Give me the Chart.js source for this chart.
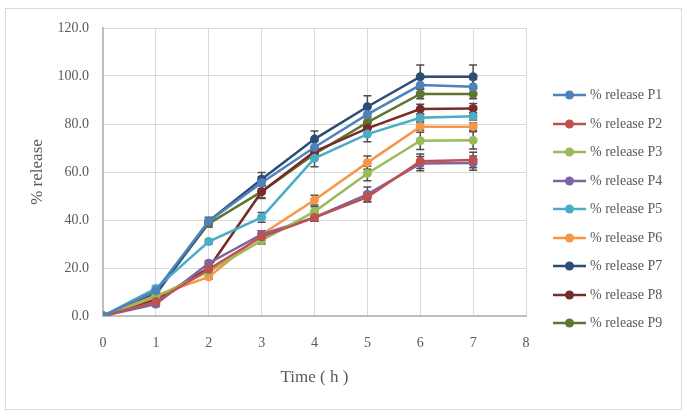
<!DOCTYPE html>
<html>
<head>
<meta charset="utf-8">
<script src="https://cdn.jsdelivr.net/npm/chart.js@4/dist/chart.umd.min.js"></script>
<style>
  html, body { margin: 0; padding: 0; background: #fff; }
  #wrap { position: relative; width: 687px; height: 418px; }
  #frame { position: absolute; left: 5px; top: 8px; width: 675px; height: 400px; border: 1.5px solid #d9d9d9; }
  #chart { position: absolute; left: 0; top: 0; }
  #legend { position: absolute; left: 553px; top: 81px; font-family: "Liberation Serif", serif; font-size: 14px; color: #595959; }
  #legend .item { height: 28.5px; display: flex; align-items: center; white-space: nowrap; }
  #legend svg { margin-right: 4px; }
</style>
</head>
<body>
<div id="wrap">
  <div id="frame"></div>
  <canvas id="chart" width="687" height="418"></canvas>
  <div id="legend"></div>
</div>
<script>
// time points (h)
const hours = [0, 1, 2, 3, 4, 5, 6, 7];
const xTicks = [0, 1, 2, 3, 4, 5, 6, 7, 8];

// % release for each formulation
const p1 = [0, 10.5, 39.5, 55.5, 70.3, 84.0, 96.2, 95.5];
const p2 = [0, 6.0, 19.5, 33.0, 41.0, 49.5, 64.5, 65.0];
const p3 = [0, 8.0, 18.5, 31.5, 43.5, 59.4, 73.0, 73.2];
const p4 = [0, 5.0, 22.0, 34.0, 41.1, 50.7, 63.5, 63.7];
const p5 = [0, 11.5, 31.0, 41.1, 65.7, 75.8, 82.6, 83.2];
const p6 = [0, 8.5, 16.3, 34.0, 48.3, 63.9, 78.9, 78.9];
const p7 = [0, 9.0, 39.5, 57.0, 73.7, 87.2, 99.7, 99.7];
const p8 = [0, 6.9, 20.0, 51.8, 68.5, 78.2, 86.2, 86.5];
const p9 = [0, 9.7, 38.5, 51.8, 67.5, 80.7, 92.5, 92.5];

// standard deviations (error bars)
const sd1 = [0, 1, 1.5, 2.5, 2.5, 3, 3, 3];
const sd2 = [0, 1, 1, 1.5, 1.5, 2, 3, 3.2];
const sd3 = [0, 1, 1, 1.5, 2, 3, 3.6, 3.6];
const sd4 = [0, 1, 1, 1.5, 1.5, 3, 3, 3];
const sd5 = [0, 1, 1, 2, 3.5, 3.2, 1.5, 1.5];
const sd6 = [0, 1, 1, 1.5, 2, 2.8, 1.5, 1.5];
const sd7 = [0, 1, 1.5, 2.8, 3.4, 4.6, 4.9, 4.9];
const sd8 = [0, 1, 1, 2.8, 2, 2, 2, 2];
const sd9 = [0, 1, 1.5, 2.5, 2, 2, 2, 2];

const seriesNames = ["% release P1", "% release P2", "% release P3", "% release P4", "% release P5",
  "% release P6", "% release P7", "% release P8", "% release P9"];
const seriesValues = [p1, p2, p3, p4, p5, p6, p7, p8, p9];
const seriesErrors = [sd1, sd2, sd3, sd4, sd5, sd6, sd7, sd8, sd9];
const colors = ["#4f81bd", "#c0504d", "#9bbb59", "#8064a2", "#4bacc6", "#f79646", "#2c4d75", "#772c2a", "#5f7530"];

const serif = "'Liberation Serif', 'Times New Roman', serif";

const datasets = seriesNames.map((name, i) => ({
  label: name,
  data: seriesValues[i].map((v, j) => ({ x: hours[j], y: v })),
  errors: seriesErrors[i],
  borderColor: colors[i],
  backgroundColor: colors[i],
  borderWidth: 2.5,
  pointRadius: 4.5,
  pointHoverRadius: 4.5,
  pointBorderWidth: 0,
  tension: 0,
}));

// error bars drawn with the chart's own scales
const errorBars = {
  id: "errorBars",
  beforeDatasetsDraw(chart) {
    const { ctx, scales: { x, y } } = chart;
    ctx.save();
    ctx.strokeStyle = "#4d4d4d";
    ctx.lineWidth = 1.5;
    chart.data.datasets.forEach((ds) => {
      ds.data.forEach((pt, j) => {
        const e = ds.errors[j];
        if (!e) return;
        const px = x.getPixelForValue(pt.x);
        const top = y.getPixelForValue(pt.y + e);
        const bot = y.getPixelForValue(pt.y - e);
        ctx.beginPath();
        ctx.moveTo(px, top); ctx.lineTo(px, bot);
        ctx.moveTo(px - 4, top); ctx.lineTo(px + 4, top);
        ctx.moveTo(px - 4, bot); ctx.lineTo(px + 4, bot);
        ctx.stroke();
      });
    });
    ctx.restore();
  },
};

new Chart(document.getElementById("chart"), {
  type: "line",
  data: { datasets },
  options: {
    responsive: false,
    animation: false,
    layout: { padding: { left: 20, top: 28, right: 161, bottom: 30 } },
    plugins: { legend: { display: false }, tooltip: { enabled: false } },
    scales: {
      x: {
        type: "linear",
        min: 0,
        max: 8,
        afterBuildTicks: (s) => { s.ticks = xTicks.map((v) => ({ value: v })); },
        afterFit: (s) => { s.height = 72; },
        grid: { color: "#d9d9d9", lineWidth: 1, drawTicks: false },
        border: { color: "#bfbfbf", width: 2 },
        ticks: { color: "#595959", padding: 19, font: { family: serif, size: 14 } },
        title: { display: true, text: "Time ( h )", color: "#595959", padding: 0, font: { family: serif, size: 17 } },
      },
      y: {
        min: 0,
        max: 120,
        afterFit: (s) => { s.width = 83; },
        grid: { color: "#d9d9d9", lineWidth: 1, drawTicks: false },
        border: { color: "#bfbfbf", width: 2 },
        ticks: { stepSize: 20, color: "#595959", padding: 14, font: { family: serif, size: 14 },
          callback: (v) => v.toFixed(1) },
        title: { display: true, text: "% release", color: "#595959", padding: 7, font: { family: serif, size: 17 } },
      },
    },
  },
  plugins: [errorBars],
});

// legend: line with marker, like the original
const legend = document.getElementById("legend");
seriesNames.forEach((name, i) => {
  const item = document.createElement("div");
  item.className = "item";
  item.innerHTML =
    '<svg width="33" height="10"><line x1="0" y1="5" x2="33" y2="5" stroke="' + colors[i] +
    '" stroke-width="2.5"/><circle cx="16.5" cy="5" r="4.5" fill="' + colors[i] + '"/></svg>' +
    "<span>" + name + "</span>";
  legend.appendChild(item);
});
</script>
</body>
</html>
